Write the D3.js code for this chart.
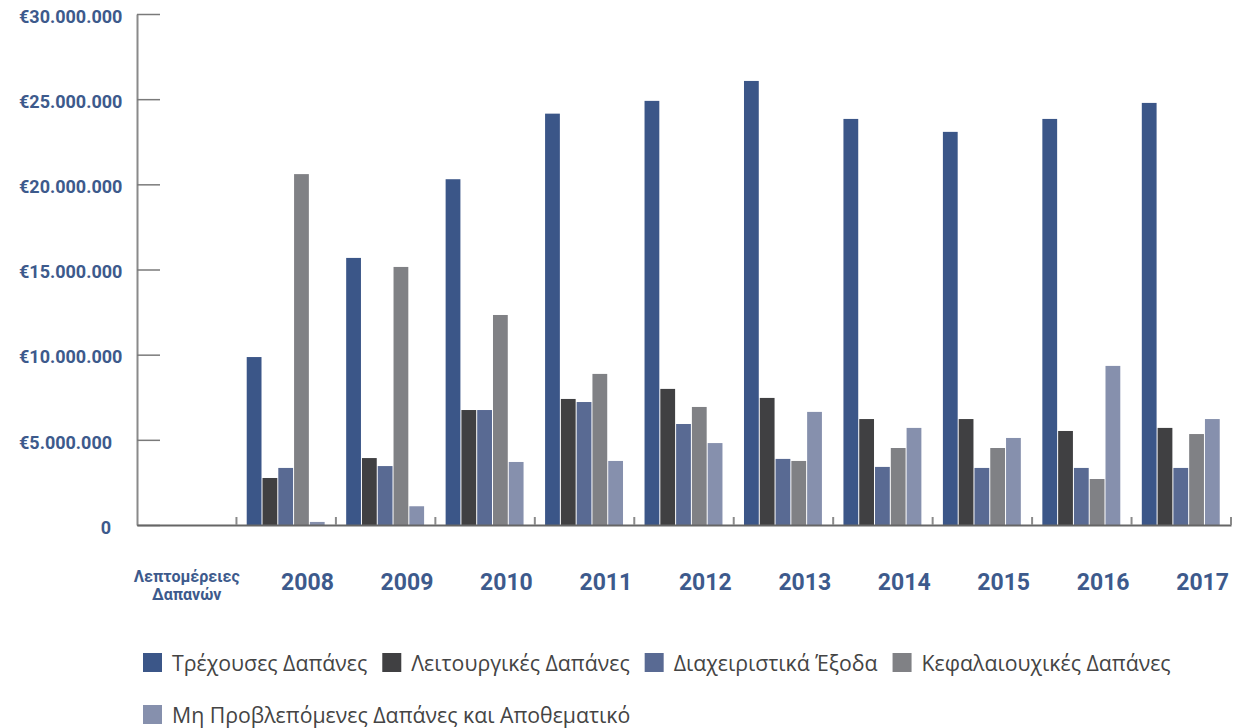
<!DOCTYPE html>
<html>
<head>
<meta charset="utf-8">
<script src="https://cdn.jsdelivr.net/npm/d3@7"></script>
<style>
  html, body { margin: 0; padding: 0; background: #ffffff; }
  svg { display: block; }
</style>
</head>
<body>
<svg id="chart" width="1237" height="728"></svg>
<script>
// ---- Data ----
const categories = ["Λεπτομέρειες Δαπανών", "2008", "2009", "2010", "2011", "2012", "2013", "2014", "2015", "2016", "2017"];
const seriesNames = ["Τρέχουσες Δαπάνες", "Λειτουργικές Δαπάνες", "Διαχειριστικά Έξοδα", "Κεφαλαιουχικές Δαπάνες", "Μη Προβλεπόμενες Δαπάνες και Αποθεματικό"];
const trexouses      = [null, 9860000, 15680000, 20300000, 24150000, 24900000, 26070000, 23840000, 23080000, 23840000, 24780000];
const leitourgikes   = [null, 2760000, 3930000, 6750000, 7400000, 7990000, 7460000, 6220000, 6220000, 5520000, 5700000];
const diaxeiristika  = [null, 3350000, 3460000, 6750000, 7220000, 5930000, 3880000, 3410000, 3350000, 3350000, 3350000];
const kefalaiouxikes = [null, 20600000, 15150000, 12330000, 8870000, 6930000, 3760000, 4520000, 4520000, 2700000, 5340000];
const mhProblepomenes= [null, 180000, 1100000, 3700000, 3760000, 4810000, 6640000, 5700000, 5110000, 9340000, 6220000];
const yTickValues = [0, 5000000, 10000000, 15000000, 20000000, 25000000, 30000000];
const yTickLabels = ["0", "€5.000.000", "€10.000.000", "€15.000.000", "€20.000.000", "€25.000.000", "€30.000.000"];
const seriesColors = ["#3b5688", "#404042", "#596a93", "#808185", "#8690ad"];

const seriesValues = [trexouses, leitourgikes, diaxeiristika, kefalaiouxikes, mhProblepomenes];

// ---- Layout ----
const svg = d3.select("#chart");
const plotLeft = 137, plotRight = 1231, plotTop = 14, plotBottom = 525;
const labelBlue = "#3d5a8c";

const x0 = d3.scaleBand().domain(categories).range([plotLeft, plotRight]).padding(0);
const x1 = d3.scaleBand().domain(seriesNames).range([0, x0.bandwidth()]).paddingInner(0).paddingOuter(0.65);
const y = d3.scaleLinear().domain([0, 30000000]).range([plotBottom, plotTop]);

// Y axis
const yAxis = d3.axisRight(y)
  .tickValues(yTickValues)
  .tickSize(23)
  .tickSizeOuter(0)
  .tickFormat((d, i) => yTickLabels[i]);
const yg = svg.append("g").attr("transform", `translate(${plotLeft},0)`).call(yAxis);
yg.select(".domain").attr("stroke", "#8a8a8a").attr("stroke-width", 2);
yg.selectAll(".tick line").attr("stroke", "#7a7a7a").attr("stroke-width", 1.5);
yg.selectAll(".tick text")
  .attr("x", d => d === 0 ? -26 : -118)
  .attr("dy", "0.46em")
  .attr("text-anchor", d => d === 0 ? "end" : "start")
  .attr("fill", labelBlue)
  .style("font-family", "Roboto, 'Liberation Sans', sans-serif")
  .style("font-weight", "700")
  .style("font-size", "18px");

// Bars
const groups = svg.append("g").selectAll("g")
  .data(categories)
  .join("g")
  .attr("transform", d => `translate(${x0(d)},0)`);

groups.selectAll("rect")
  .data((c, ci) => seriesNames.map((s, si) => ({ s, si, v: seriesValues[si][ci] })).filter(d => d.v != null))
  .join("rect")
  .attr("x", d => x1(d.s))
  .attr("width", x1.bandwidth() - 1)
  .attr("y", d => y(d.v))
  .attr("height", d => y(0) - y(d.v))
  .attr("fill", d => seriesColors[d.si]);

// X axis baseline
const xAxis = d3.axisBottom(x0).tickSize(0).tickSizeOuter(0).tickFormat("");
const xg = svg.append("g").attr("transform", `translate(0,${plotBottom})`).call(xAxis);
xg.select(".domain").attr("stroke", "#666666").attr("stroke-width", 2);

// Boundary ticks
svg.append("g").selectAll("line")
  .data(categories)
  .join("line")
  .attr("x1", d => x0(d) + x0.bandwidth())
  .attr("x2", d => x0(d) + x0.bandwidth())
  .attr("y1", plotBottom - 8)
  .attr("y2", plotBottom)
  .attr("stroke", "#8a8a8a")
  .attr("stroke-width", 2);

// X labels
const xl = svg.append("g");
categories.forEach((c, i) => {
  if (i === 0) {
    const words = c.split(" ");
    const t = xl.append("text")
      .attr("x", x0(c) + x0.bandwidth() / 2)
      .attr("y", 582)
      .attr("text-anchor", "middle")
      .attr("fill", labelBlue)
      .style("font-family", "Roboto, 'Liberation Sans', sans-serif")
      .style("font-weight", "700")
      .style("font-size", "16px");
    words.forEach((w, wi) => {
      t.append("tspan").attr("x", x0(c) + x0.bandwidth() / 2).attr("dy", wi === 0 ? 0 : 18).text(w);
    });
  } else {
    xl.append("text")
      .attr("x", x0(c) + x0.bandwidth() - 2)
      .attr("y", 590)
      .attr("text-anchor", "end")
      .attr("fill", labelBlue)
      .style("font-family", "Roboto, 'Liberation Sans', sans-serif")
      .style("font-weight", "700")
      .style("font-size", "23px")
      .text(c);
  }
});

// Legend (flow layout)
const legend = svg.append("g");
let lx = 143, ly = 653;
const sq = 19, rowH = 52, maxX = 1225;
seriesNames.forEach((name, i) => {
  const item = legend.append("g");
  item.append("rect").attr("width", sq).attr("height", sq).attr("fill", seriesColors[i]);
  const t = item.append("text")
    .attr("x", sq + 10)
    .attr("y", 18)
    .attr("fill", "#444444")
    .style("font-family", "'Open Sans', 'Noto Sans', sans-serif")
    .style("font-size", "21.3px")
    .text(name);
  const w = sq + 10 + t.node().getComputedTextLength();
  if (lx + w > maxX) { lx = 143; ly += rowH; }
  item.attr("transform", `translate(${lx},${ly})`);
  lx += w + 15;
});
</script>
</body>
</html>
